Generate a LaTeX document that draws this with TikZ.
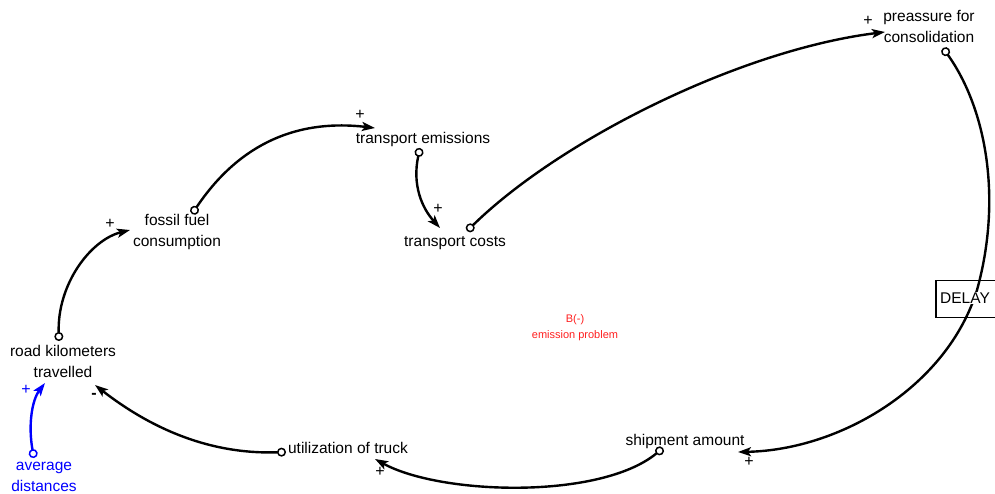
\documentclass[tikz,border=0pt]{standalone}
\usepackage{fontspec}
\setmainfont{Liberation Sans}
\usetikzlibrary{arrows.meta}
\definecolor{sdblue}{RGB}{0,0,255}
\definecolor{sdred}{RGB}{255,30,30}
\begin{document}
\begin{tikzpicture}[x=1pt,y=-1pt,
  lbl/.style={font=\fontsize{15.5}{21}\selectfont, align=center, inner sep=0pt},
  sgn/.style={font=\fontsize{16}{16}\selectfont, inner sep=0pt},
  link/.style={line width=2.4pt,
    {Circle[open,length=9pt,line width=1.5pt]}-{Stealth[length=13pt,width=9pt,inset=3pt]}},
  bluelink/.style={link, draw=sdblue},
]
\useasboundingbox (0,0) rectangle (995,494);

% nodes
\node[lbl] (rk) at (63,361) {road kilometers\\travelled};
\node[lbl, text=sdblue] (ad) at (44,477) {average\\distances};
\node[lbl] (ff) at (177,232) {fossil fuel\\consumption};
\node[lbl] (te) at (423,139) {transport emissions};
\node[lbl] (tc) at (455,243) {transport costs};
\node[lbl] (pc) at (929,26) {preassure for\\consolidation};
\node[lbl] (sa) at (685,441) {shipment amount};
\node[lbl] (ut) at (348,448) {utilization of truck};
\node[text=sdred, font=\fontsize{11}{16}\selectfont, align=center, inner sep=0pt] (bl) at (575,328) {B(-)\\emission problem};

% connectors
\draw[link] ([shift={(-4,-20)}]rk.center) .. controls (57,285) and (90,240) .. ([shift={(-47,-2)}]ff.center);
\draw[link] ([shift={(15,-18)}]ff.center) .. controls (235,150) and (290,118) .. ([shift={(-48,-11)}]te.center);
\draw[link] ([shift={(-3,9)}]te.center) .. controls (412,185) and (422,208) .. ([shift={(-15,-15)}]tc.center);
\draw[link] ([shift={(12,-12)}]tc.center) .. controls (560,140) and (740,50) .. ([shift={(-44,6)}]pc.center);
\draw[link] ([shift={(14,22)}]pc.center) .. controls (987,110) and (1002,200) .. (977,290)
   .. controls (947,387) and (840,450) .. ([shift={(53,11)}]sa.center);
\draw[link] ([shift={(-22,7)}]sa.center) .. controls (600,500) and (440,495) .. ([shift={(27,11)}]ut.center);
\draw[link] ([shift={(-62,4)}]ut.center) .. controls (200,455) and (140,420) .. ([shift={(32,24)}]rk.center);
\draw[bluelink] ([shift={(-10,-19)}]ad.center) .. controls (28,425) and (32,400) .. ([shift={(-18,22)}]rk.center);

% delay box
\node[draw, line width=1.5pt, minimum width=62pt, minimum height=37pt, anchor=west, inner sep=0pt] (dl) at (935,299) {};
\node[lbl, fill=white, inner sep=1pt] (dlt) at (965,298) {DELAY};

% polarity signs
\node[sgn] (s1) at (110,224) {+};
\node[sgn] (s2) at (360,115) {+};
\node[sgn] (s3) at (438,209) {+};
\node[sgn] (s4) at (868,21) {+};
\node[sgn] (s5) at (749,462) {+};
\node[sgn] (s6) at (380,472) {+};
\node[sgn, font=\fontsize{16}{16}\bfseries] (s7) at (94,396) {-};
\node[sgn, text=sdblue] (s8) at (26,390) {+};
\end{tikzpicture}
\end{document}
